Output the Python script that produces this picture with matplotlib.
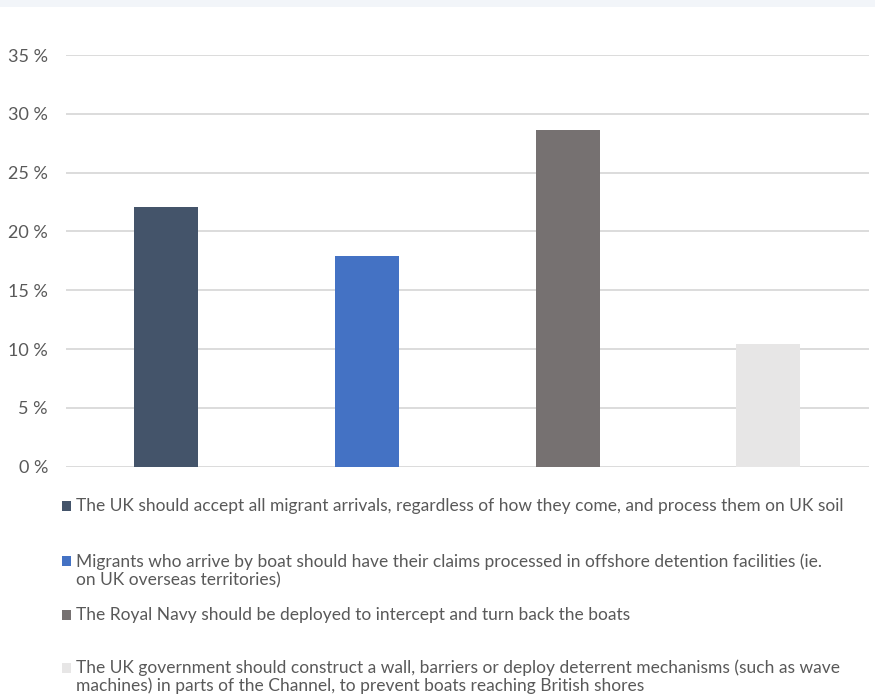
import matplotlib
matplotlib.use("Agg")
import matplotlib.pyplot as plt
from matplotlib.patches import Rectangle
from matplotlib.ticker import FuncFormatter

categories = [
    "The UK should accept all migrant arrivals, regardless of how they come, and process them on UK soil",
    "Migrants who arrive by boat should have their claims processed in offshore detention facilities (ie.\non UK overseas territories)",
    "The Royal Navy should be deployed to intercept and turn back the boats",
    "The UK government should construct a wall, barriers or deploy deterrent mechanisms (such as wave\nmachines) in parts of the Channel, to prevent boats reaching British shores",
]
values = [22.05, 17.9, 28.6, 10.45]
colors = ["#44546A", "#4472C4", "#767171", "#E7E6E6"]
yticks = [0, 5, 10, 15, 20, 25, 30, 35]

FONT = "Lato"
W, H = 875, 700
fig = plt.figure(figsize=(W / 100, H / 100), dpi=100)
fig.patch.set_facecolor("white")

# top band
fig.patches.append(Rectangle((0, 1 - 7 / H), 1, 7 / H, transform=fig.transFigure,
                             facecolor="#F2F5F9", edgecolor="none", zorder=0))

left, right = 66 / W, 868.7 / W
bottom, top = 1 - 466.7 / H, 1 - 55 / H
ax = fig.add_axes([left, bottom, right - left, top - bottom])
x = list(range(len(values)))
ax.bar(x, values, width=0.32, color=colors, zorder=3)
ax.set_xlim(-0.5, len(values) - 0.5)
ax.set_ylim(0, 35)
ax.set_yticks(yticks)
ax.yaxis.set_major_formatter(FuncFormatter(lambda v, p: f"{int(v)} %"))
ax.set_xticks([])
for s in ax.spines.values():
    s.set_visible(False)
ax.grid(axis="y", color="#D9D9D9", linewidth=1.3, zorder=0)
ax.tick_params(axis="y", length=0, pad=13, labelsize=13, labelcolor="#595959")
for lbl in ax.get_yticklabels():
    lbl.set_family(FONT)

# legend (manual, Excel-like layout)
baselines = [[511], [566.5, 585], [620], [673], ]
baselines[3].append(691.5)
square_centers = [506, 561, 615, 668]
for i, cat in enumerate(categories):
    sc = square_centers[i]
    fig.patches.append(Rectangle((61.5 / W, 1 - (sc + 4.75) / H), 9.5 / W, 9.5 / H,
                                 transform=fig.transFigure, facecolor=colors[i],
                                 edgecolor="none"))
    for line, b in zip(cat.split("\n"), baselines[i]):
        fig.text(76.5 / W, 1 - b / H, line, family=FONT, fontsize=12.5, color="#595959",
                 ha="left", va="baseline")

fig.savefig("out.png", dpi=100)
